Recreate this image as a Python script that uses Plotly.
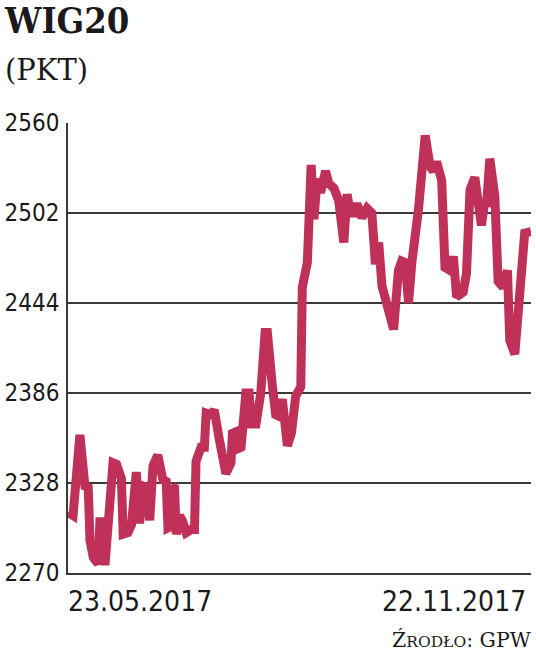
import pandas as pd
import plotly.graph_objects as go

# Days since 23.05.2017 and WIG20 values (pkt)
day_offsets = [0, 2.0, 4.7, 6.7, 8.0, 8.7, 10.0, 11.9, 12.6, 13.7, 14.6, 15.9, 17.8, 19.2,
               21.1, 21.8, 23.7, 25.1, 27.0, 28.3, 29.6, 31.0, 32.3, 33.6, 35.5, 37.5,
               38.8, 39.5, 40.8, 41.4, 42.1, 42.8, 44.1, 45.4, 46.7, 48.7, 50.0, 50.6,
               52.6, 53.9, 54.6, 56.5, 57.8, 59.8, 62.4, 64.4, 65.0, 66.4, 67.0, 68.4,
               70.3, 71.6, 72.3, 74.3, 75.6, 76.2, 77.9, 78.8, 80.8, 82.1, 83.4, 84.7,
               86.7, 88.3, 90.0, 92.0, 92.6, 94.6, 96.1, 97.2, 98.5, 99.8, 101.8, 103.1,
               105.1, 107.0, 109.0, 110.3, 111.6, 112.9, 114.2, 116.2, 118.2, 120.1,
               121.5, 122.8, 124.1, 126.7, 128.7, 130.6, 131.9, 133.3, 134.6, 135.9,
               138.5, 141.2, 143.1, 144.4, 145.7, 147.7, 149.0, 151.0, 152.3, 153.6,
               156.2, 157.5, 158.9, 160.8, 162.1, 163.4, 164.8, 165.4, 166.7, 168.7,
               170.0, 172.0, 173.7, 174.6, 176.6, 177.9, 180.5, 183.0]
wig20 = [2309, 2307, 2359, 2326, 2325, 2291, 2280, 2276, 2303, 2303, 2275, 2305, 2341, 2340,
         2331, 2295, 2296, 2301, 2335, 2302, 2326, 2325, 2304, 2339, 2346, 2330,
         2329, 2299, 2300, 2326, 2325, 2295, 2307, 2303, 2296, 2298, 2298, 2342,
         2351, 2351, 2373, 2372, 2375, 2356, 2334, 2341, 2360, 2361, 2350, 2351,
         2386, 2386, 2366, 2366, 2383, 2386, 2425, 2425, 2390, 2372, 2371, 2382,
         2352, 2360, 2384, 2390, 2454, 2470, 2533, 2498, 2524, 2515, 2529, 2521,
         2518, 2510, 2483, 2514, 2502, 2502, 2508, 2499, 2505, 2502,
         2469, 2483, 2455, 2437, 2427, 2465, 2471, 2470, 2444, 2470,
         2504, 2552, 2532, 2529, 2535, 2523, 2467, 2465, 2474, 2448,
         2451, 2463, 2517, 2525, 2504, 2494, 2510, 2506, 2537, 2513,
         2458, 2454, 2465, 2420, 2411, 2442, 2489, 2490]

y_ticks = [2270, 2328, 2386, 2444, 2502, 2560]
x_labels = ["23.05.2017", "22.11.2017"]
start_date = "2017-05-23"
end_date = "2017-11-22"

dates = pd.to_datetime(start_date) + pd.to_timedelta(day_offsets, unit="D")

LINE = "#c0315a"
GRID = "#3a3a3a"
NARROW = "DejaVu Sans Condensed, sans-serif"
SERIF = "DejaVu Serif, serif"

fig = go.Figure()
fig.add_trace(go.Scatter(x=dates, y=wig20, mode="lines",
                         line=dict(color=LINE, width=9), hoverinfo="skip"))

W, H = 536, 655
L, R, T, B = 68, 5, 123, 82
pw, ph = W - L - R, H - T - B

def px(xp):
    return (xp - L) / pw

def py(yp):
    return (H - B - yp) / ph

fig.update_layout(
    width=W, height=H,
    margin=dict(l=L, r=R, t=T, b=B, pad=0),
    paper_bgcolor="white", plot_bgcolor="white",
    showlegend=False,
    xaxis=dict(range=[pd.to_datetime(start_date), pd.to_datetime(end_date)],
               showgrid=False, showticklabels=False, ticks="", automargin=False,
               showline=True, linecolor=GRID, linewidth=1.5, zeroline=False),
    yaxis=dict(range=[2270, 2560], tickvals=y_ticks, automargin=False,
               ticktext=[str(v) for v in y_ticks],
               showgrid=True, gridcolor=GRID, gridwidth=1.5,
               showline=True, linecolor=GRID, linewidth=1.5, zeroline=False,
               ticks="", ticklabelstandoff=2,
               tickfont=dict(family=NARROW, size=24, color="#1a1a1a")),
    annotations=[
        dict(text="<b>WIG20</b>", x=px(2), y=py(20), xref="paper", yref="paper",
             xanchor="left", yanchor="middle", showarrow=False,
             font=dict(family="DejaVu Serif Condensed, DejaVu Serif, serif", size=36, color="#1a1a1a")),
        dict(text="(PKT)", x=px(3), y=py(70), xref="paper", yref="paper",
             xanchor="left", yanchor="middle", showarrow=False,
             font=dict(family=SERIF, size=29, color="#1a1a1a")),
        dict(text=x_labels[0], x=px(66), y=py(601), xref="paper", yref="paper",
             xanchor="left", yanchor="middle", showarrow=False,
             font=dict(family=NARROW, size=28, color="#1a1a1a")),
        dict(text=x_labels[1], x=px(528), y=py(601), xref="paper", yref="paper",
             xanchor="right", yanchor="middle", showarrow=False,
             font=dict(family=NARROW, size=28, color="#1a1a1a")),
        dict(text="Ź<span style='font-size:15.5px'>RODŁO</span>: GPW", x=px(534), y=py(640),
             xref="paper", yref="paper", xanchor="right", yanchor="middle",
             showarrow=False, font=dict(family=SERIF, size=20.5, color="#1a1a1a")),
    ],
)

fig.write_html("out.html", config={"displayModeBar": False},
               post_script="document.body.style.margin='0';")
